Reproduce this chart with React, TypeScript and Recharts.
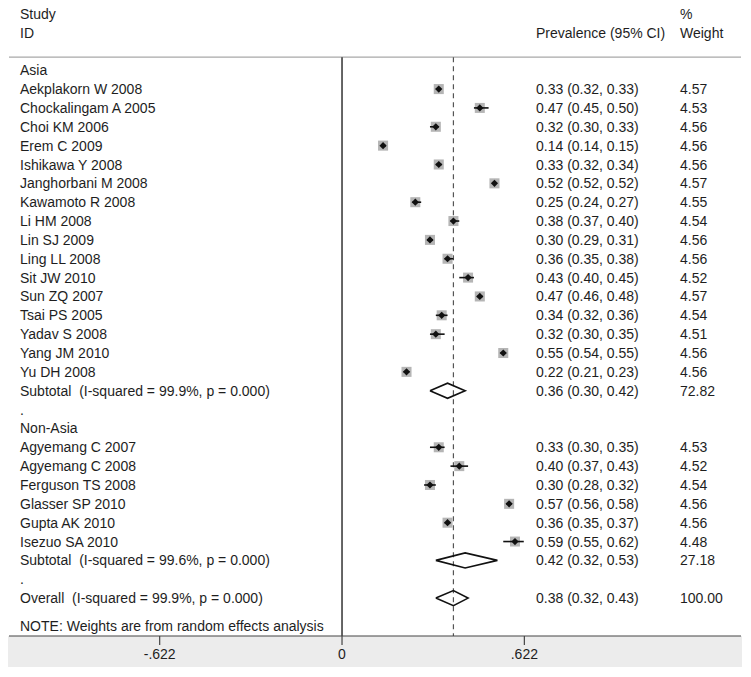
import { ComposedChart, Scatter, XAxis, YAxis, ReferenceLine } from 'recharts';

// Asia studies
const asiaStudies = [
  'Aekplakorn W 2008', 'Chockalingam A 2005', 'Choi KM 2006', 'Erem C 2009',
  'Ishikawa Y 2008', 'Janghorbani M 2008', 'Kawamoto R 2008', 'Li HM 2008',
  'Lin SJ 2009', 'Ling LL 2008', 'Sit JW 2010', 'Sun ZQ 2007',
  'Tsai PS 2005', 'Yadav S 2008', 'Yang JM 2010', 'Yu DH 2008',
];
const asiaEst = [0.33, 0.47, 0.32, 0.14, 0.33, 0.52, 0.25, 0.38, 0.30, 0.36, 0.43, 0.47, 0.34, 0.32, 0.55, 0.22];
const asiaLo = [0.32, 0.45, 0.30, 0.14, 0.32, 0.52, 0.24, 0.37, 0.29, 0.35, 0.40, 0.46, 0.32, 0.30, 0.54, 0.21];
const asiaHi = [0.33, 0.50, 0.33, 0.15, 0.34, 0.52, 0.27, 0.40, 0.31, 0.38, 0.45, 0.48, 0.36, 0.35, 0.55, 0.23];
const asiaWeight = [4.57, 4.53, 4.56, 4.56, 4.56, 4.57, 4.55, 4.54, 4.56, 4.56, 4.52, 4.57, 4.54, 4.51, 4.56, 4.56];

// Non-Asia studies
const nonAsiaStudies = ['Agyemang C 2007', 'Agyemang C 2008', 'Ferguson TS 2008', 'Glasser SP 2010', 'Gupta AK 2010', 'Isezuo SA 2010'];
const nonAsiaEst = [0.33, 0.40, 0.30, 0.57, 0.36, 0.59];
const nonAsiaLo = [0.30, 0.37, 0.28, 0.56, 0.35, 0.55];
const nonAsiaHi = [0.35, 0.43, 0.32, 0.58, 0.37, 0.62];
const nonAsiaWeight = [4.53, 4.52, 4.54, 4.56, 4.56, 4.48];

// pooled estimates: Asia subtotal, Non-Asia subtotal, overall
const pooledLabels = [
  'Subtotal  (I-squared = 99.9%, p = 0.000)',
  'Subtotal  (I-squared = 99.6%, p = 0.000)',
  'Overall  (I-squared = 99.9%, p = 0.000)',
];
const pooledEst = [0.36, 0.42, 0.38];
const pooledLo = [0.30, 0.32, 0.32];
const pooledHi = [0.42, 0.53, 0.43];
const pooledWeight = [72.82, 27.18, 100.0];

const xTicks = [-0.622, 0, 0.622];
const noteText = 'NOTE: Weights are from random effects analysis';

type Row = { y: number; label: string; ci?: string; weight?: string };
type Pt = { x: number; y: number; w: number; lo: number; hi: number };

const fmtCi = (e: number, l: number, h: number) => `${e.toFixed(2)} (${l.toFixed(2)}, ${h.toFixed(2)})`;

// build table rows (y = row index)
const rows: Row[] = [];
const studyPts: Pt[] = [];
const pooledPts: { y: number; est: number; lo: number; hi: number }[] = [];

rows.push({ y: 0, label: 'Asia' });
asiaStudies.forEach((s, i) => {
  const y = 1 + i;
  rows.push({ y, label: s, ci: fmtCi(asiaEst[i], asiaLo[i], asiaHi[i]), weight: asiaWeight[i].toFixed(2) });
  studyPts.push({ x: asiaEst[i], y, w: asiaWeight[i], lo: asiaLo[i], hi: asiaHi[i] });
});
rows.push({ y: 17, label: pooledLabels[0], ci: fmtCi(pooledEst[0], pooledLo[0], pooledHi[0]), weight: pooledWeight[0].toFixed(2) });
pooledPts.push({ y: 17, est: pooledEst[0], lo: pooledLo[0], hi: pooledHi[0] });
rows.push({ y: 18, label: '.' });
rows.push({ y: 19, label: 'Non-Asia' });
nonAsiaStudies.forEach((s, i) => {
  const y = 20 + i;
  rows.push({ y, label: s, ci: fmtCi(nonAsiaEst[i], nonAsiaLo[i], nonAsiaHi[i]), weight: nonAsiaWeight[i].toFixed(2) });
  studyPts.push({ x: nonAsiaEst[i], y, w: nonAsiaWeight[i], lo: nonAsiaLo[i], hi: nonAsiaHi[i] });
});
rows.push({ y: 26, label: pooledLabels[1], ci: fmtCi(pooledEst[1], pooledLo[1], pooledHi[1]), weight: pooledWeight[1].toFixed(2) });
pooledPts.push({ y: 26, est: pooledEst[1], lo: pooledLo[1], hi: pooledHi[1] });
rows.push({ y: 27, label: '.' });
rows.push({ y: 28, label: pooledLabels[2], ci: fmtCi(pooledEst[2], pooledLo[2], pooledHi[2]), weight: pooledWeight[2].toFixed(2) });
pooledPts.push({ y: 28, est: pooledEst[2], lo: pooledLo[2], hi: pooledHi[2] });
rows.push({ y: 29.5, label: noteText });

const headerRows = [
  { y: -3, left: 'Study', ci: '', weight: '%' },
  { y: -2, left: 'ID', ci: 'Prevalence (95% CI)', weight: 'Weight' },
];

const tickRows = [...headerRows.map((h) => h.y), ...rows.map((r) => r.y)];
const overall = pooledEst[2];
const TOP = -0.69;
const BOTTOM = 30.01;
const DIAMOND_H = 0.4;
const FONT = 14;

const textColor = '#1e1e1e';

const LeftTick = (props: any) => {
  const { x, y, payload } = props;
  const h = headerRows.find((r) => r.y === payload.value);
  const r = rows.find((rr) => rr.y === payload.value);
  const label = h ? h.left : r ? r.label : '';
  return (
    <text x={x + 11} y={y} dy="0.36em" textAnchor="start" fontSize={FONT} fill={textColor} style={{ whiteSpace: 'pre' }}>
      {label}
    </text>
  );
};

const RightTick = (props: any) => {
  const { x, y, payload } = props;
  const h = headerRows.find((r) => r.y === payload.value);
  const r = rows.find((rr) => rr.y === payload.value);
  const ci = h ? h.ci : r?.ci ?? '';
  const w = h ? h.weight : r?.weight ?? '';
  return (
    <g>
      <text x={x - 205} y={y} dy="0.36em" textAnchor="start" fontSize={FONT} fill={textColor}>{ci}</text>
      <text x={x - 61} y={y} dy="0.36em" textAnchor="start" fontSize={FONT} fill={textColor}>{w}</text>
    </g>
  );
};

const BoxShape = (props: any) => {
  const { cx, cy, payload } = props;
  const s = 4.7 * Math.sqrt(payload.w);
  return <rect x={cx - s / 2} y={cy - s / 2} width={s} height={s} fill="#b5b5b5" />;
};

const PointShape = (props: any) => {
  const { cx, cy } = props;
  const r = 3.6;
  return <polygon points={`${cx - r},${cy} ${cx},${cy - r} ${cx + r},${cy} ${cx},${cy + r}`} fill="#111" />;
};

const Nothing = () => <g />;

const fmtTick = (v: number) => (v === 0 ? '0' : (v < 0 ? '-' : '') + Math.abs(v).toFixed(3).replace(/^0/, ''));

export default function App() {
  return (
    <div style={{ position: 'relative', marginTop: -8, width: 734, height: 667, fontFamily: '"Liberation Sans", Arial, sans-serif' }}>
      <div style={{ position: 'absolute', left: 0, top: 636, width: 734, height: 31, background: '#ececec' }} />
      <div style={{ position: 'absolute', left: 0, top: 0 }}>
        <ComposedChart width={734} height={667} margin={{ top: 8, right: 0, bottom: 0, left: 0 }}>
          <XAxis
            type="number"
            dataKey="x"
            domain={[-1.136, 1.361]}
            allowDataOverflow
            ticks={xTicks}
            tickFormatter={fmtTick}
            height={31}
            tickSize={9}
            tickMargin={4}
            axisLine={{ stroke: '#444', strokeWidth: 1.2 }}
            tickLine={{ stroke: '#444', strokeWidth: 1.2 }}
            tick={{ fontSize: FONT, fill: textColor }}
          />
          <YAxis
            yAxisId="left"
            type="number"
            dataKey="y"
            domain={[-3.3, BOTTOM]}
            reversed
            allowDataOverflow
            ticks={tickRows}
            interval={0}
            width={1}
            tickSize={0}
            tickMargin={0}
            axisLine={false}
            tickLine={false}
            tick={<LeftTick />}
          />
          <YAxis
            yAxisId="right"
            orientation="right"
            type="number"
            dataKey="y"
            domain={[-3.3, BOTTOM]}
            reversed
            allowDataOverflow
            ticks={tickRows}
            interval={0}
            width={1}
            tickSize={0}
            tickMargin={0}
            axisLine={false}
            tickLine={false}
            tick={<RightTick />}
          />
          <ReferenceLine yAxisId="left" y={TOP} stroke="#a8a8a8" strokeWidth={1.2} />
          <ReferenceLine
            yAxisId="left"
            segment={[{ x: 0, y: TOP }, { x: 0, y: BOTTOM }]}
            stroke="#333"
            strokeWidth={1.5}
          />
          <ReferenceLine
            yAxisId="left"
            segment={[{ x: overall, y: TOP }, { x: overall, y: BOTTOM }]}
            stroke="#555"
            strokeWidth={1.2}
            strokeDasharray="5 4"
          />
          <Scatter yAxisId="left" data={studyPts} shape={<BoxShape />} isAnimationActive={false} />
          {studyPts.map((p, i) => (
            <Scatter
              key={`ci-${i}`}
              yAxisId="left"
              data={[{ x: p.lo, y: p.y }, { x: p.hi, y: p.y }]}
              line={{ stroke: '#111', strokeWidth: 1.6 }}
              lineType="joint"
              shape={<Nothing />}
              isAnimationActive={false}
            />
          ))}
          <Scatter yAxisId="left" data={studyPts} shape={<PointShape />} isAnimationActive={false} />
          {pooledPts.map((p, i) => (
            <Scatter
              key={`pool-${i}`}
              yAxisId="left"
              data={[
                { x: p.lo, y: p.y },
                { x: p.est, y: p.y - DIAMOND_H },
                { x: p.hi, y: p.y },
                { x: p.est, y: p.y + DIAMOND_H },
                { x: p.lo, y: p.y },
              ]}
              line={{ stroke: '#111', strokeWidth: 1.6 }}
              lineType="joint"
              shape={<Nothing />}
              isAnimationActive={false}
            />
          ))}
        </ComposedChart>
      </div>
    </div>
  );
}
